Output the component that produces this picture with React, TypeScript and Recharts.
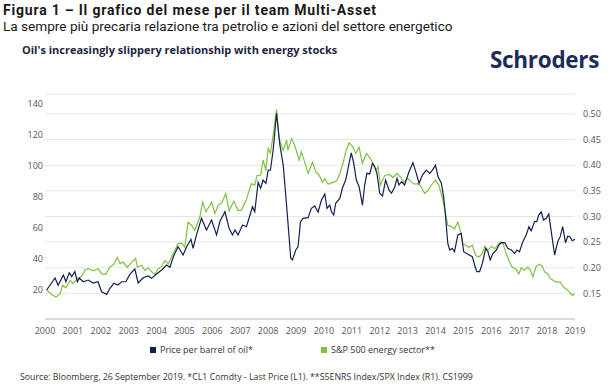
import { LineChart, Line, XAxis, YAxis, CartesianGrid } from "recharts";

// [year position, value]
const oilPrice: [number, number][] = [
  [2000.06, 20], [2000.36, 27.7], [2000.47, 23], [2000.66, 29.6], [2000.75, 25.3], [2000.87, 31],
  [2000.96, 28.6], [2001.07, 31.8], [2001.16, 25.3], [2001.23, 27.7], [2001.37, 25.3], [2001.55, 26.4],
  [2001.73, 24.5], [2001.9, 25.3], [2002.03, 18.9], [2002.21, 17.2], [2002.33, 21.1], [2002.47, 24.3],
  [2002.61, 23.2], [2002.75, 25.3], [2002.9, 25.3], [2003.04, 30], [2003.22, 33.5], [2003.34, 24.5],
  [2003.52, 27.9], [2003.7, 29], [2003.82, 27.5], [2004.0, 30.3], [2004.18, 32.9], [2004.36, 36.1],
  [2004.48, 34.6], [2004.6, 41.4], [2004.77, 47.8], [2004.95, 42.5], [2005.08, 47.8], [2005.23, 52.6],
  [2005.31, 46.8], [2005.43, 55.4], [2005.61, 66.1], [2005.79, 58.6], [2005.97, 65], [2006.15, 55.4],
  [2006.27, 64], [2006.45, 70.3], [2006.6, 59.7], [2006.72, 55.4], [2006.81, 58.6], [2006.92, 55.4],
  [2007.08, 61.8], [2007.22, 60.7], [2007.44, 73.5], [2007.52, 70.3], [2007.64, 89.2], [2007.73, 85.4],
  [2007.82, 90.7], [2007.92, 88.6], [2008.0, 97.1], [2008.08, 97], [2008.18, 110], [2008.3, 133.6],
  [2008.42, 113.2], [2008.54, 100.3], [2008.66, 74.6], [2008.81, 40.4], [2008.87, 39.3], [2008.99, 45.7],
  [2009.07, 47.8], [2009.16, 63.9], [2009.25, 66.1], [2009.43, 66.5], [2009.55, 72.5], [2009.67, 74],
  [2009.79, 70], [2009.91, 77.8], [2010.03, 81.7], [2010.11, 72.5], [2010.21, 74.6], [2010.27, 70.3],
  [2010.35, 68.2], [2010.42, 75.7], [2010.57, 78.9], [2010.66, 85.4], [2010.78, 90.7], [2010.9, 101.4],
  [2010.98, 108.2], [2011.07, 101.4], [2011.16, 90.7], [2011.26, 86.4], [2011.38, 74.6], [2011.46, 87.5],
  [2011.54, 95], [2011.64, 94.6], [2011.74, 101.4], [2011.82, 99.3], [2011.9, 95], [2012.0, 82.2],
  [2012.1, 80.4], [2012.21, 90.7], [2012.33, 84.3], [2012.42, 82.2], [2012.54, 86.4], [2012.62, 91.8],
  [2012.69, 87.5], [2012.78, 89.7], [2012.89, 87.5], [2013.05, 96], [2013.19, 101.8], [2013.31, 95],
  [2013.41, 88.6], [2013.53, 93.9], [2013.67, 97.1], [2013.79, 95], [2013.89, 97.1], [2014.0, 100.3],
  [2014.09, 92.8], [2014.21, 88.6], [2014.29, 80], [2014.36, 67.1], [2014.44, 50], [2014.51, 45.7],
  [2014.6, 46.8], [2014.68, 44.6], [2014.8, 55.4], [2014.92, 56.4], [2015.01, 44.6], [2015.1, 43.6],
  [2015.32, 41.4], [2015.4, 36.1], [2015.48, 31.8], [2015.58, 31.8], [2015.68, 37.2], [2015.8, 46.8],
  [2015.88, 44.6], [2015.96, 39.3], [2016.06, 43.6], [2016.18, 45.7], [2016.27, 48.9], [2016.36, 50.4],
  [2016.48, 50.4], [2016.59, 46.8], [2016.72, 45.7], [2016.83, 43.6], [2016.92, 45.7], [2017.01, 44.6],
  [2017.13, 51.1], [2017.25, 55.4], [2017.35, 60.7], [2017.43, 58.1], [2017.55, 64], [2017.63, 64],
  [2017.7, 68.2], [2017.79, 70.3], [2017.87, 65], [2017.97, 66.1], [2018.06, 68.8], [2018.15, 57.4],
  [2018.27, 42.5], [2018.38, 51.1], [2018.47, 54.3], [2018.56, 60.7], [2018.66, 50.4], [2018.74, 54.7],
  [2018.83, 53.9], [2018.9, 51.7], [2019.0, 52.6],
];

const energyRatio: [number, number][] = [
  [2000.06, 0.157], [2000.24, 0.148], [2000.39, 0.143], [2000.54, 0.149], [2000.63, 0.166], [2000.75, 0.161],
  [2000.9, 0.175], [2001.01, 0.169], [2001.16, 0.179], [2001.31, 0.183], [2001.43, 0.195], [2001.55, 0.198],
  [2001.73, 0.194], [2001.91, 0.198], [2002.03, 0.188], [2002.18, 0.187], [2002.33, 0.201], [2002.47, 0.207],
  [2002.59, 0.22], [2002.69, 0.208], [2002.8, 0.211], [2002.95, 0.201], [2003.11, 0.211], [2003.25, 0.218],
  [2003.31, 0.201], [2003.46, 0.205], [2003.58, 0.195], [2003.7, 0.2], [2003.82, 0.192], [2003.94, 0.187],
  [2004.06, 0.198], [2004.18, 0.203], [2004.3, 0.214], [2004.42, 0.208], [2004.54, 0.222], [2004.66, 0.234],
  [2004.77, 0.247], [2004.9, 0.248], [2005.01, 0.24], [2005.13, 0.289], [2005.25, 0.283], [2005.37, 0.273],
  [2005.55, 0.299], [2005.65, 0.328], [2005.77, 0.309], [2005.91, 0.322], [2005.97, 0.328], [2006.09, 0.306],
  [2006.21, 0.322], [2006.33, 0.326], [2006.48, 0.345], [2006.6, 0.311], [2006.77, 0.33], [2006.92, 0.312],
  [2007.04, 0.312], [2007.2, 0.33], [2007.4, 0.364], [2007.52, 0.361], [2007.6, 0.38], [2007.73, 0.38],
  [2007.82, 0.41], [2007.92, 0.39], [2008.0, 0.433], [2008.08, 0.423], [2008.18, 0.459], [2008.3, 0.509],
  [2008.39, 0.452], [2008.54, 0.429], [2008.66, 0.449], [2008.71, 0.429], [2008.84, 0.452], [2008.95, 0.439],
  [2009.11, 0.41], [2009.19, 0.426], [2009.31, 0.406], [2009.43, 0.384], [2009.59, 0.406], [2009.71, 0.387],
  [2009.82, 0.381], [2009.95, 0.367], [2010.03, 0.374], [2010.15, 0.363], [2010.33, 0.367], [2010.45, 0.369],
  [2010.57, 0.384], [2010.68, 0.403], [2010.78, 0.426], [2010.9, 0.444], [2011.02, 0.437], [2011.14, 0.423],
  [2011.26, 0.435], [2011.38, 0.403], [2011.52, 0.423], [2011.64, 0.415], [2011.74, 0.406], [2011.86, 0.39],
  [2011.94, 0.397], [2012.02, 0.361], [2012.18, 0.38], [2012.36, 0.382], [2012.47, 0.376], [2012.62, 0.384],
  [2012.74, 0.377], [2012.86, 0.367], [2013.01, 0.374], [2013.13, 0.367], [2013.25, 0.363], [2013.37, 0.364],
  [2013.49, 0.358], [2013.61, 0.345], [2013.73, 0.351], [2013.85, 0.361], [2014.0, 0.371], [2014.12, 0.361],
  [2014.24, 0.338], [2014.33, 0.315], [2014.44, 0.283], [2014.57, 0.28], [2014.68, 0.276], [2014.8, 0.289],
  [2014.89, 0.273], [2014.98, 0.247], [2015.08, 0.244], [2015.2, 0.24], [2015.32, 0.244], [2015.44, 0.224],
  [2015.56, 0.221], [2015.68, 0.228], [2015.76, 0.242], [2015.88, 0.234], [2016.0, 0.242], [2016.12, 0.237],
  [2016.27, 0.247], [2016.32, 0.25], [2016.42, 0.247], [2016.51, 0.231], [2016.63, 0.214], [2016.75, 0.201],
  [2016.87, 0.198], [2016.99, 0.188], [2017.07, 0.2], [2017.19, 0.195], [2017.31, 0.201], [2017.4, 0.195],
  [2017.49, 0.182], [2017.61, 0.203], [2017.73, 0.207], [2017.83, 0.203], [2017.91, 0.192], [2018.03, 0.188],
  [2018.11, 0.179], [2018.23, 0.175], [2018.33, 0.172], [2018.47, 0.172], [2018.56, 0.164], [2018.66, 0.159],
  [2018.8, 0.153], [2018.9, 0.146], [2019.0, 0.149],
];

const years = Array.from({ length: 20 }, (_, i) => 2000 + i);
const leftTicks = [20, 40, 60, 80, 100, 120, 140];
const rightTicks = [0.15, 0.2, 0.25, 0.3, 0.35, 0.4, 0.45, 0.5];

const NAVY = "#14214d";
const GREEN = "#7dc242";
const tickStyle = { fill: "#555", fontSize: 9, fontFamily: "'Open Sans', sans-serif" };

const toRows = (pts: [number, number][]) => pts.map(([t, v]) => ({ t, v }));

export default function App() {
  return (
    <div
      style={{
        position: "absolute",
        left: 0,
        top: 0,
        width: 616,
        height: 385,
        background: "#fff",
        fontFamily: "'Open Sans', sans-serif",
      }}
    >
      <div style={{ position: "absolute", left: 3, top: 2, fontFamily: "Roboto", fontWeight: 700, fontSize: 14, letterSpacing: 0.8, color: "#1a1a1a", whiteSpace: "nowrap" }}>
        Figura 1 – Il grafico del mese per il team Multi-Asset
      </div>
      <div style={{ position: "absolute", left: 3, top: 18, fontFamily: "Roboto", fontSize: 13.6, color: "#1a1a1a", whiteSpace: "nowrap" }}>
        La sempre più precaria relazione tra petrolio e azioni del settore energetico
      </div>
      <div style={{ position: "absolute", left: 22, top: 42, fontWeight: 700, fontSize: 11, color: "#1d2540", whiteSpace: "nowrap" }}>
        Oil's increasingly slippery relationship with energy stocks
      </div>
      <div style={{ position: "absolute", left: 490, top: 44, fontWeight: 700, fontSize: 22.5, color: "#1c2b5a", letterSpacing: -0.3, whiteSpace: "nowrap" }}>
        Schroders
      </div>

      <div style={{ position: "absolute", left: 0, top: 0 }}>
        <LineChart width={616} height={385} margin={{ top: 94, right: 0, bottom: 0, left: 0 }}>
          <CartesianGrid yAxisId="right" vertical={false} stroke="#e6e6e6" />
          <XAxis
            type="number"
            dataKey="t"
            domain={[2000, 2019]}
            ticks={years}
            allowDataOverflow
            height={66}
            tickLine={false}
            tickSize={0}
            tickMargin={9}
            axisLine={{ stroke: "#d2d2d2", strokeWidth: 1.5 }}
            tick={tickStyle}
            interval={0}
          />
          <YAxis
            yAxisId="left"
            orientation="left"
            width={45}
            domain={[1.36, 146]}
            ticks={leftTicks}
            allowDataOverflow
            axisLine={false}
            tickLine={false}
            tickSize={0}
            tickMargin={2}
            tick={tickStyle}
          />
          <YAxis
            yAxisId="right"
            orientation="right"
            width={41}
            domain={[0.1, 0.539]}
            ticks={rightTicks}
            allowDataOverflow
            axisLine={false}
            tickLine={false}
            tickSize={0}
            tickMargin={8}
            tick={tickStyle}
            tickFormatter={(v: number) => v.toFixed(2)}
          />
          <Line
            yAxisId="right"
            data={toRows(energyRatio)}
            dataKey="v"
            type="linear"
            stroke={GREEN}
            strokeWidth={1.2}
            dot={false}
            isAnimationActive={false}
          />
          <Line
            yAxisId="left"
            data={toRows(oilPrice)}
            dataKey="v"
            type="linear"
            stroke={NAVY}
            strokeWidth={1.2}
            dot={false}
            isAnimationActive={false}
          />
        </LineChart>
      </div>

      <div style={{ position: "absolute", left: 150, top: 343, fontSize: 9, color: "#333", display: "flex", alignItems: "center", whiteSpace: "nowrap" }}>
        <span style={{ width: 6, height: 6, background: NAVY, display: "inline-block", marginRight: 4 }} />
        Price per barrel of oil*
      </div>
      <div style={{ position: "absolute", left: 321, top: 343, fontSize: 9, color: "#333", display: "flex", alignItems: "center", whiteSpace: "nowrap" }}>
        <span style={{ width: 6, height: 6, background: GREEN, display: "inline-block", marginRight: 4 }} />
        S&amp;P 500 energy sector**
      </div>
      <div style={{ position: "absolute", left: 20, top: 371, fontSize: 8.8, color: "#333", whiteSpace: "nowrap" }}>
        Source: Bloomberg, 26 September 2019. *CL1 Comdty - Last Price (L1). **S5ENRS Index/SPX Index (R1). CS1999
      </div>
    </div>
  );
}
